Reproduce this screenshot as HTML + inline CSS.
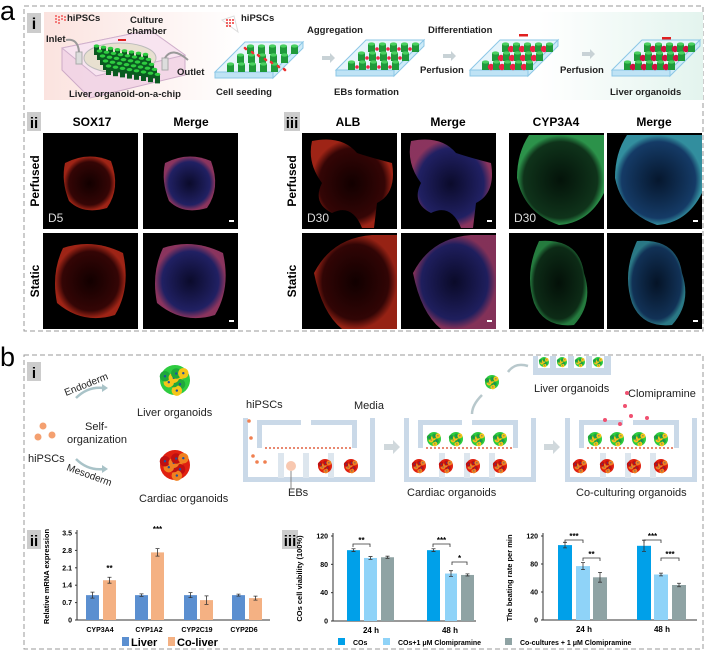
<!DOCTYPE html>
<html><head><meta charset="utf-8">
<style>
html,body{margin:0;padding:0;background:#fff;}
svg{display:block;font-family:"Liberation Sans",sans-serif;}
.b{font-weight:bold;}
</style></head>
<body>
<svg id="s" width="706" height="652" viewBox="0 0 706 652" xmlns="http://www.w3.org/2000/svg">
<defs>
<linearGradient id="bgi" x1="0" x2="1" y1="0" y2="0">
<stop offset="0" stop-color="#fbe3df"/><stop offset="0.3" stop-color="#fff"/><stop offset="0.75" stop-color="#fff"/><stop offset="1" stop-color="#e3f4ee"/></linearGradient>
<radialGradient id="red" cx="0.5" cy="0.5" r="0.5"><stop offset="0" stop-color="#140000" /><stop offset="0.8" stop-color="#3a0606"/><stop offset="1" stop-color="#b02818"/></radialGradient>
<radialGradient id="blue" cx="0.5" cy="0.5" r="0.5"><stop offset="0" stop-color="#0c0c30" /><stop offset="0.8" stop-color="#24246e"/><stop offset="1" stop-color="#9a3a68"/></radialGradient>
<radialGradient id="grn" cx="0.5" cy="0.5" r="0.5"><stop offset="0" stop-color="#04140a" /><stop offset="0.85" stop-color="#10361c"/><stop offset="1" stop-color="#2e9a4e"/></radialGradient>
<radialGradient id="cyan" cx="0.5" cy="0.5" r="0.5"><stop offset="0" stop-color="#061830" /><stop offset="0.85" stop-color="#163e6c"/><stop offset="1" stop-color="#3596a6"/></radialGradient>
</defs>
<text x="0" y="20" font-size="27">a</text>
<rect x="24" y="6" width="679" height="325" fill="none" stroke="#999" stroke-dasharray="5,3"/>
<rect x="44" y="12" width="659" height="88" fill="url(#bgi)"/>
<rect x="27" y="13" width="14" height="20" fill="#ccc"/><text x="34" y="29" font-size="16" class="b" text-anchor="middle">i</text>
<g id="chip"></g>
<g font-size="9.5" class="b" fill="#222">
<text x="67" y="21">hiPSCs</text>
<text x="130" y="23">Culture</text><text x="127" y="34">chamber</text>
<text x="46" y="42">Inlet</text>
<text x="177" y="75">Outlet</text>
<text x="69" y="97">Liver organoid-on-a-chip</text>
<text x="241" y="21">hiPSCs</text>
<text x="307" y="33">Aggregation</text>
<text x="428" y="33">Differentiation</text>
<text x="420" y="73">Perfusion</text>
<text x="560" y="73">Perfusion</text>
<text x="216" y="95">Cell seeding</text>
<text x="334" y="95">EBs formation</text>
<text x="610" y="95">Liver organoids</text>
</g>
<g id="plates"></g>
<rect x="27" y="112" width="14" height="19" fill="#ccc"/><text x="34" y="128" font-size="15" class="b" text-anchor="middle">ii</text>
<rect x="284" y="112" width="16" height="19" fill="#ccc"/><text x="292" y="128" font-size="15" class="b" text-anchor="middle">iii</text>
<g font-size="12" class="b" text-anchor="middle">
<text x="92" y="126">SOX17</text><text x="191" y="126">Merge</text>
<text x="348" y="126">ALB</text><text x="448" y="126">Merge</text>
<text x="556" y="126">CYP3A4</text><text x="654" y="126">Merge</text>
</g>
<g font-size="12" class="b" text-anchor="middle">
<text transform="translate(39,181) rotate(-90)">Perfused</text>
<text transform="translate(39,281) rotate(-90)">Static</text>
<text transform="translate(296,181) rotate(-90)">Perfused</text>
<text transform="translate(296,281) rotate(-90)">Static</text>
</g>
<g id="micro"></g>
<text x="0" y="366" font-size="27">b</text>
<rect x="24" y="355" width="679" height="294" fill="none" stroke="#999" stroke-dasharray="5,3"/>
<rect x="27" y="362" width="14" height="19" fill="#ccc"/><text x="34" y="378" font-size="15" class="b" text-anchor="middle">i</text>
<circle cx="43" cy="426" r="3.5" fill="#f4a070"/><circle cx="38" cy="437" r="3.5" fill="#f4a070"/><circle cx="52" cy="435" r="3.5" fill="#f4a070"/>
<g font-size="11" fill="#222">
<text x="28" y="462">hiPSCs</text>
<text x="85" y="430">Self-</text><text x="67" y="443">organization</text>
<text transform="translate(66,396) rotate(-22)" font-size="10">Endoderm</text>
<text transform="translate(66,470) rotate(20)" font-size="10">Mesoderm</text>
<text x="137" y="416">Liver organoids</text>
<text x="139" y="502">Cardiac organoids</text>
<text x="246" y="408">hiPSCs</text>
<text x="354" y="409">Media</text>
<text x="288" y="496">EBs</text>
<text x="407" y="496">Cardiac organoids</text>
<text x="534" y="392">Liver organoids</text>
<text x="628" y="397">Clomipramine</text>
<text x="576" y="496">Co-culturing organoids</text>
</g>
<path d="M76 398 Q88 386 104 388" fill="none" stroke="#a9c3c8" stroke-width="2.5"/><path d="M102 384 L108 388 L102 392Z" fill="#a9c3c8"/>
<path d="M76 459 Q88 471 104 469" fill="none" stroke="#a9c3c8" stroke-width="2.5"/><path d="M102 465 L108 469 L102 473Z" fill="#a9c3c8"/>
<g id="orgs"></g>
<g id="chips"></g>
<rect x="27" y="530" width="14" height="19" fill="#ccc"/><text x="34" y="546" font-size="15" class="b" text-anchor="middle">ii</text>
<rect x="282" y="530" width="16" height="19" fill="#ccc"/><text x="290" y="546" font-size="15" class="b" text-anchor="middle">iii</text>
<g id="charts" font-size="7" class="b"></g>
</svg>
<script>
const NS="http://www.w3.org/2000/svg";
function el(p,t,a,txt){const e=document.createElementNS(NS,t);for(const k in a)e.setAttribute(k,a[k]);if(txt!==undefined)e.textContent=txt;document.getElementById(p).appendChild(e);return e;}
el('chip','path',{d:'M62 48 L150 30 L185 55 L185 75 L90 98 L62 70Z',fill:'#f2d4e6',stroke:'#c9a4c4','stroke-width':1,opacity:0.9});
el('chip','path',{d:'M62 48 L150 30 L185 55 L96 76Z',fill:'#f8e4f0',stroke:'#d0b0cc'});
el('chip','ellipse',{cx:120,cy:58,rx:36,ry:15,fill:'#e8e0d0',stroke:'#bbb'});
for(let r=0;r<5;r++)for(let c=0;c<8;c++){const x=94+c*7+r*3,y=46+r*5+c*1.2;el('chip','rect',{x:x,y:y,width:5,height:9,fill:'#0a5a20'});el('chip','ellipse',{cx:x+2.5,cy:y,rx:2.8,ry:1.6,fill:'#2ecc40'});}
el('chip','rect',{x:76,y:52,width:6,height:12,fill:'#ddd',stroke:'#aaa'});
el('chip','rect',{x:162,y:58,width:6,height:12,fill:'#ddd',stroke:'#aaa'});
el('chip','path',{d:'M79 52 Q78 38 66 40',fill:'none',stroke:'#999','stroke-width':2});
el('chip','path',{d:'M165 58 Q172 46 188 60',fill:'none',stroke:'#999','stroke-width':2});
el('chip','rect',{x:118,y:39,width:8,height:2,fill:'#e02020'});
for(let i=0;i<10;i++)el('chip','circle',{cx:56+(i%4)*3,cy:16+Math.floor(i/4)*3+(i%2),r:0.9,fill:'#e33'});
function plate(x,y,type){
 const w=88,h=36,sk=30;
 el('plates','path',{d:`M${x} ${y+h-6} L${x+sk} ${y} L${x+w} ${y} L${x+w-sk} ${y+h-6}Z`,fill:'#e6f4fb',stroke:'#8cc7e6'});
 el('plates','path',{d:`M${x} ${y+h-6} L${x+w-sk} ${y+h-6} L${x+w-sk} ${y+h} L${x} ${y+h}Z`,fill:'#bfe3f5',stroke:'#8cc7e6'});
 el('plates','path',{d:`M${x+w-sk} ${y+h-6} L${x+w} ${y} L${x+w} ${y+6} L${x+w-sk} ${y+h}Z`,fill:'#cdebf8',stroke:'#8cc7e6'});
 for(let r=0;r<3;r++)for(let c=0;c<5;c++){const px=x+sk-2-r*10+c*11+4,py=y+4+r*9;
  el('plates','rect',{x:px,y:py,width:7,height:8,fill:'#1f9a3a'});el('plates','ellipse',{cx:px+3.5,cy:py,rx:3.5,ry:1.6,fill:'#4ad060'});
  if(type>0&&c<4){el('plates','circle',{cx:px+9,cy:py+5,r:type==1?1.8:3.2,fill:type==3?'#d01040':'#ee2244'});}
 }
 if(type==0)for(let i=0;i<14;i++)el('plates','circle',{cx:x+30+(i*13)%45,cy:y+6+(i*7)%24,r:1.3,fill:'#e33'});
}
plate(215,42,0);plate(336,40,1);plate(470,40,2);plate(612,40,3);
el('plates','path',{d:'M222 20 L234 16 L238 32Z',fill:'#fff',stroke:'#ddd'});
for(let i=0;i<8;i++)el('plates','circle',{cx:227+(i%3)*3,cy:20+Math.floor(i/3)*3,r:1,fill:'#e33'});
[[322,58],[443,56],[582,54]].forEach(a=>el('plates','path',{d:`M${a[0]} ${a[1]-2} h8 v-3 l5 5 l-5 5 v-3 h-8z`,fill:'#c8d2d6'}));
[[519,34],[662,37]].forEach(a=>el('plates','rect',{x:a[0],y:a[1],width:9,height:2.5,fill:'#e02020'}));
const cols=[43,143,302,401,509,607];const rows=[133,233];
const fills=[['url(#red)','url(#blue)'],['url(#red)','url(#blue)'],['url(#grn)','url(#cyan)']];
for(let ri=0;ri<2;ri++)for(let ci=0;ci<6;ci++){
 const x=cols[ci],y=rows[ri];el('micro','rect',{x:x,y:y,width:95,height:96,fill:'#000'});
 const g=Math.floor(ci/2),f=fills[g][ci%2];
 if(g==0){ if(ri==0)el('micro','path',{d:`M${x+22} ${y+30} Q${x+45} ${y+18} ${x+68} ${y+28} Q${x+78} ${y+55} ${x+64} ${y+75} Q${x+40} ${y+82} ${x+26} ${y+68} Q${x+18} ${y+48} ${x+22} ${y+30}Z`,fill:f,opacity:0.9});
   else el('micro','path',{d:`M${x+20} ${y+15} Q${x+50} ${y+5} ${x+80} ${y+20} Q${x+88} ${y+55} ${x+72} ${y+82} Q${x+40} ${y+92} ${x+14} ${y+70} Q${x+8} ${y+40} ${x+20} ${y+15}Z`,fill:f,opacity:0.9});}
 else if(g==1){ if(ri==0)el('micro','path',{d:`M${x+10} ${y+8} Q${x+40} ${y+2} ${x+55} ${y+20} Q${x+70} ${y+25} ${x+90} ${y+30} Q${x+95} ${y+60} ${x+75} ${y+70} L${x+72} ${y+95} L${x+60} ${y+95} Q${x+50} ${y+70} ${x+30} ${y+80} Q${x+10} ${y+70} ${x+20} ${y+50} Q${x+5} ${y+30} ${x+10} ${y+8}Z`,fill:f,opacity:0.9});
   else el('micro','path',{d:`M${x+12} ${y+40} Q${x+30} ${y+5} ${x+70} ${y+2} L${x+95} ${y+2} L${x+95} ${y+96} L${x+40} ${y+96} Q${x+20} ${y+80} ${x+12} ${y+40}Z`,fill:f,opacity:0.85});}
 else { if(ri==0)el('micro','path',{d:`M${x+20} ${y+2} L${x+95} ${y+2} L${x+95} ${y+60} Q${x+80} ${y+90} ${x+50} ${y+92} Q${x+15} ${y+80} ${x+8} ${y+45} Q${x+8} ${y+20} ${x+20} ${y+2}Z`,fill:f,opacity:0.95});
   else el('micro','path',{d:`M${x+30} ${y+8} Q${x+70} ${y+5} ${x+75} ${y+40} Q${x+85} ${y+70} ${x+65} ${y+92} Q${x+35} ${y+95} ${x+25} ${y+70} Q${x+15} ${y+40} ${x+30} ${y+8}Z`,fill:f,opacity:0.8});}
 if(ci%2==1||ci==5)el('micro','rect',{x:x+86,y:y+87,width:5,height:2,fill:'#fff'});
 if(ri==0&&ci%2==0)el('micro','text',{x:x+5,y:y+89,'font-size':12,fill:'#ddd'},ci==0?'D5':'D30');
}
function org(p,cx,cy,r,liver){const n=liver?[['#2ecc40'],['#f5c518'],['#1fa83a']]:[['#e02010'],['#f08020'],['#c01010']];
 el(p,'circle',{cx:cx,cy:cy,r:r,fill:n[0][0]});
 for(let i=0;i<9;i++){const a=i*0.7,d=r*0.55*((i%3)/2+0.3);el(p,'circle',{cx:cx+Math.cos(a)*d,cy:cy+Math.sin(a)*d,r:r*0.35,fill:n[(i%2)+1][0]});el(p,'circle',{cx:cx+Math.cos(a)*d,cy:cy+Math.sin(a)*d,r:r*0.08,fill:'#2050a0'});}}
org('orgs',175,380,15,true);org('orgs',175,465,15,false);
function chip(x,stage){const y=418,w=132,h=64,c='#cad9e8';
 el('chips','rect',{x:x,y:y,width:5,height:h,fill:c});el('chips','rect',{x:x,y:y+h-5,width:w,height:5,fill:c});el('chips','rect',{x:x+w-5,y:y,width:5,height:h,fill:c});
 el('chips','rect',{x:x+14,y:y+2,width:44,height:5,fill:c});el('chips','rect',{x:x+14,y:y+2,width:5,height:28,fill:c});
 el('chips','rect',{x:x+68,y:y+2,width:46,height:5,fill:c});el('chips','rect',{x:x+109,y:y+2,width:5,height:28,fill:c});
 for(let i=0;i<3;i++)el('chips','rect',{x:x+35+i*25,y:y+35,width:6,height:25,fill:'#dde6ee'});
 el('chips','line',{x1:x+22,y1:y+30,x2:x+108,y2:y+30,stroke:'#e06040','stroke-width':1.5,'stroke-dasharray':'2,2'});
 if(stage==0){[[6,3],[8,20],[10,38],[14,44],[22,44]].forEach(a=>el('chips','circle',{cx:x+a[0],cy:y+a[1],r:1.8,fill:'#f08050'}));
   el('chips','circle',{cx:x+48,cy:y+48,r:5,fill:'#f8c8b0'});el('chips','line',{x1:x+48,y1:y+53,x2:x+48,y2:y+70,stroke:'#888'});
   org('chips',x+82,y+48,7,false);org('chips',x+108,y+48,7,false);}
 else{[0,1,2,3].forEach(i=>{org('chips',x+30+i*22,y+21,7,true);org('chips',x+15+i*27,y+48,7,false);});}
 if(stage==2){[[62,-25],[60,-12],[66,-2],[40,2],[82,0],[55,6]].forEach(a=>el('chips','circle',{cx:x+a[0],cy:y+a[1],r:2,fill:'#f05070'}));}
}
chip(243,0);chip(404,1);chip(565,2);
[[384,447],[544,447]].forEach(a=>el('chips','path',{d:`M${a[0]} ${a[1]-3} h9 v-4 l7 7 l-7 7 v-4 h-9z`,fill:'#d0d8dc'}));
el('chips','rect',{x:533,y:356,width:78,height:19,fill:'#cad9e8'});
[0,1,2,3].forEach(i=>{el('chips','rect',{x:538+i*18,y:356,width:12,height:12,fill:'#fff'});org('chips',544+i*18,362,5,true);});
org('chips',492,382,7,true);
el('chips','path',{d:'M528 366 Q515 362 508 372',fill:'none',stroke:'#b8c8cc','stroke-width':2.5});
el('chips','path',{d:'M482 395 Q472 405 472 414',fill:'none',stroke:'#b8c8cc','stroke-width':2.5});
function chart(ax,x0,x1,y0,yT,ticks,tmax,ylabel,ylx,cats,bars,cols,errs,sigs){
 el('charts','line',{x1:x0,y1:yT-3,x2:x0,y2:y0,stroke:'#333'});el('charts','line',{x1:x0,y1:y0,x2:x1,y2:y0,stroke:'#333'});
 ticks.forEach(t=>{const y=y0-(t/tmax)*(y0-yT);el('charts','text',{x:x0-5,y:y+2.5,'text-anchor':'end'},String(t));el('charts','line',{x1:x0-2,y1:y,x2:x0,y2:y,stroke:'#333'});});
 el('charts','text',{transform:`translate(${ylx},${(y0+yT)/2}) rotate(-90)`,'text-anchor':'middle','font-size':7.5},ylabel);
 cats.forEach(c=>el('charts','text',{x:c[1],y:y0+12,'text-anchor':'middle','font-size':c[2]||7},c[0]));
 bars.forEach((b,i)=>{const yy=y0-(b[2]/tmax)*(y0-yT);el('charts','rect',{x:b[0],y:yy,width:b[1]-b[0],height:y0-yy,fill:cols[i%cols.length]});
  const e=(errs[i]/tmax)*(y0-yT),cx=(b[0]+b[1])/2;el('charts','path',{d:`M${cx} ${yy-e} V${yy+e} M${cx-2} ${yy-e} h4 M${cx-2} ${yy+e} h4`,stroke:'#333','stroke-width':0.8,fill:'none'});});
 sigs.forEach(s=>{if(s[3]){el('charts','path',{d:`M${s[0]} ${s[2]+3} V${s[2]} H${s[1]} V${s[2]+3}`,stroke:'#333','stroke-width':0.8,fill:'none'});}
  el('charts','text',{x:(s[0]+s[1])/2,y:s[2]-1,'text-anchor':'middle','font-size':8},s[4]);});
}
chart(1,77,270,620,533,[0,0.7,1.4,2.1,2.8,3.5],3.5,'Relative mRNA expression',49,
 [['CYP3A4',100],['CYP1A2',149],['CYP2C19',197],['CYP2D6',244]],
 [[86,99,1.0],[103,116,1.6],[135,148,1.0],[151,164,2.72],[184,197,1.0],[200,213,0.8],[232,245,1.0],[249,262,0.88]],
 ['#5b8fd0','#f4b183'],[0.12,0.12,0.05,0.15,0.1,0.17,0.04,0.08],[[103,116,572,0,'**'],[151,164,533,0,'***']]);
chart(2,333,476,621,536,[0,40,80,120],120,'COs cell viability (100%)',302,
 [['24 h',371,8],['48 h',450,8]],
 [[347,360,100],[364,377,89],[381,394,90],[427,440,100],[445,457,67],[461,474,65]],
 ['#00a0e9','#8fd3f8','#8fa3a4'],[2,2,1.5,2,4,1.5],[[353,370,544,1,'**'],[433,450,544,1,'***'],[452,467,562,1,'*']]);
chart(3,543,697,620,536,[0,40,80,120],120,'The beating rate per min',512,
 [['24 h',584,8],['48 h',662,8]],
 [[558,572,107],[576,590,77],[593,607,61],[637,651,106],[654,668,65],[672,686,50]],
 ['#00a0e9','#8fd3f8','#8fa3a4'],[4,5,7,8,2,2.5],[[565,583,540,1,'***'],[583,600,558,1,'**'],[644,661,540,1,'***'],[661,679,558,1,'***']]);
el('charts','rect',{x:122,y:637,width:7,height:9,fill:'#5b8fd0'});el('charts','text',{x:131,y:646,'font-size':11,class:''},'Liver');
el('charts','rect',{x:168,y:637,width:7,height:9,fill:'#f4b183'});el('charts','text',{x:177,y:646,'font-size':11,class:''},'Co-liver');
[[338,'#00a0e9','COs'],[383,'#8fd3f8','COs+1 μM Clomipramine'],[505,'#8fa3a4','Co-cultures + 1 μM Clomipramine']].forEach(l=>{
 el('charts','rect',{x:l[0],y:638,width:7,height:7,fill:l[1]});el('charts','text',{x:l[0]+15,y:645,'font-size':7},l[2]);});
</script>
</body></html>
